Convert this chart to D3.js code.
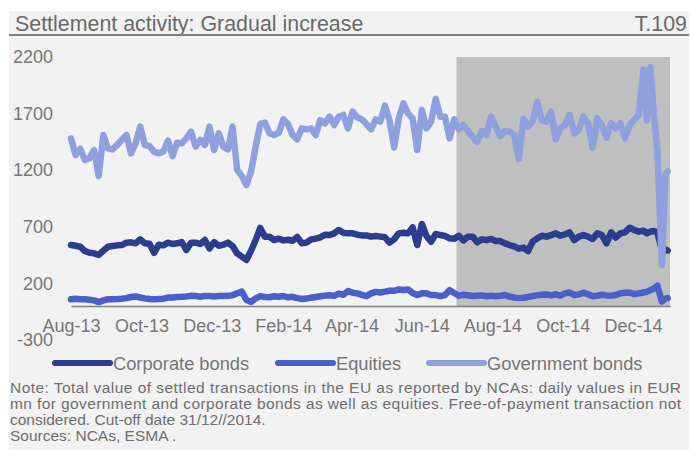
<!DOCTYPE html>
<html>
<head>
<meta charset="utf-8">
<script src="https://cdn.jsdelivr.net/npm/d3@7/dist/d3.min.js"></script>
<style>
  html, body { margin: 0; padding: 0; background: #ffffff; }
  svg { display: block; font-family: "Liberation Sans", Arial, sans-serif; }
</style>
</head>
<body>
<svg id="chart" width="691" height="450"></svg>
<script>
// ---------- DATA ----------
const title = "Settlement activity: Gradual increase";
const chartId = "T.109";

const dates = [
  "2013-08-01","2013-08-05","2013-08-09","2013-08-13","2013-08-17","2013-08-21","2013-08-25","2013-08-29",
  "2013-09-02","2013-09-06","2013-09-10","2013-09-14","2013-09-18","2013-09-22","2013-09-26","2013-09-30",
  "2013-10-04","2013-10-08","2013-10-12","2013-10-16","2013-10-20","2013-10-24","2013-10-28",
  "2013-11-01","2013-11-05","2013-11-09","2013-11-13","2013-11-17","2013-11-21","2013-11-25","2013-11-29",
  "2013-12-03","2013-12-07","2013-12-11","2013-12-15","2013-12-19","2013-12-23","2013-12-27","2013-12-31",
  "2014-01-04","2014-01-08","2014-01-12","2014-01-16","2014-01-20","2014-01-24","2014-01-28",
  "2014-02-01","2014-02-05","2014-02-09","2014-02-13","2014-02-17","2014-02-21","2014-02-25",
  "2014-03-01","2014-03-05","2014-03-09","2014-03-13","2014-03-17","2014-03-21","2014-03-25","2014-03-29",
  "2014-04-02","2014-04-06","2014-04-10","2014-04-14","2014-04-18","2014-04-22","2014-04-26","2014-04-30",
  "2014-05-04","2014-05-08","2014-05-12","2014-05-16","2014-05-20","2014-05-24","2014-05-28",
  "2014-06-01","2014-06-05","2014-06-09","2014-06-13","2014-06-17","2014-06-21","2014-06-25","2014-06-29",
  "2014-07-03","2014-07-07","2014-07-11","2014-07-15","2014-07-19","2014-07-23","2014-07-27","2014-07-31",
  "2014-08-04","2014-08-08","2014-08-12","2014-08-16","2014-08-20","2014-08-24","2014-08-28",
  "2014-09-01","2014-09-05","2014-09-09","2014-09-13","2014-09-17","2014-09-21","2014-09-25","2014-09-29",
  "2014-10-03","2014-10-07","2014-10-11","2014-10-15","2014-10-19","2014-10-23","2014-10-27","2014-10-31",
  "2014-11-04","2014-11-08","2014-11-12","2014-11-16","2014-11-20","2014-11-24","2014-11-28",
  "2014-12-02","2014-12-06","2014-12-10","2014-12-13","2014-12-16","2014-12-19","2014-12-22","2014-12-26","2014-12-29","2014-12-31"
];

const corporateBonds = [
  539,533,524,486,471,465,451,489,
  524,530,536,539,560,563,554,589,
  554,551,470,542,536,560,548,
  554,565,495,560,560,548,583,510,
  565,533,542,560,530,465,436,407,
  489,583,690,613,613,583,595,
  580,586,577,610,554,560,589,
  595,607,630,627,642,672,648,642,
  642,630,624,624,613,619,613,607,
  560,590,642,648,642,695,539,
  725,619,568,636,627,619,598,595,
  621,580,613,613,563,589,583,592,
  574,574,554,539,527,507,516,
  486,569,598,621,613,627,642,621,
  633,651,583,613,627,613,592,642,
  627,554,651,604,642,651,692,
  672,657,666,642,657,663,650,495,500,490
];

const equities = [
  60,65,60,60,55,50,35,50,
  60,60,62,65,70,80,85,75,
  68,62,60,62,65,75,75,
  80,82,85,90,88,82,88,88,
  85,88,88,90,95,112,127,53,
  36,68,88,80,78,86,82,
  88,77,82,70,62,66,74,
  80,86,92,95,90,110,100,132,
  118,112,98,88,112,125,120,127,
  135,135,147,142,147,115,97,
  112,112,97,97,88,97,140,115,
  92,100,95,88,92,94,86,90,
  86,90,97,84,76,70,74,
  80,88,94,100,102,94,104,92,
  112,120,97,103,118,104,86,92,
  100,94,92,97,112,118,118,
  105,112,120,125,140,155,180,40,65,70
];

const governmentBonds = [
  1480,1334,1390,1290,1305,1378,1150,1511,
  1393,1384,1423,1467,1511,1349,1437,1585,
  1423,1414,1364,1349,1364,1461,1325,
  1443,1437,1481,1540,1408,1467,1423,1585,
  1378,1526,1408,1384,1585,1202,1149,1069,
  1187,1408,1610,1620,1526,1511,1530,
  1650,1608,1511,1473,1570,1561,1570,
  1511,1643,1614,1673,1599,1673,1688,1570,
  1717,1667,1649,1608,1561,1649,1629,1770,
  1640,1400,1660,1790,1702,1658,1378,
  1732,1570,1629,1830,1673,1673,1481,1650,
  1560,1599,1546,1496,1452,1546,1511,1673,
  1585,1500,1546,1540,1511,1300,1652,
  1585,1635,1805,1643,1629,1717,1470,1570,
  1599,1688,1526,1555,1673,1614,1399,1658,
  1599,1487,1614,1570,1614,1481,1599,
  1643,1690,2090,1640,2110,1690,1393,362,1160,1190
];

const seriesNames = ["Corporate bonds", "Equities", "Government bonds"];
const seriesColors = ["#2c3c8e", "#4a5fc9", "#8fa0df"];

const shadeDates = ["2014-07-01", "2015-01-02"];
const shadeValue = 2200;

const xTickDates = ["2013-08-01","2013-10-01","2013-12-01","2014-02-01","2014-04-01","2014-06-01","2014-08-01","2014-10-01","2014-12-01"];
const xTickLabels = ["Aug-13","Oct-13","Dec-13","Feb-14","Apr-14","Jun-14","Aug-14","Oct-14","Dec-14"];
const yTicks = [-300, 200, 700, 1200, 1700, 2200];
const yTickLabels = ["-300", "200", "700", "1200", "1700", "2200"];
const xDomain = ["2013-08-01", "2015-01-02"];

const noteLines = [
  "Note: Total value of settled transactions in the EU as reported by NCAs: daily values in EUR",
  "mn for government and corporate bonds as well as equities. Free-of-payment transaction not",
  "considered. Cut-off date 31/12//2014.",
  "Sources: NCAs, ESMA ."
];
const noteJustified = [true, true, false, false];

// ---------- DRAW ----------
const svg = d3.select("#chart");
const parse = d3.utcParse("%Y-%m-%d");

svg.append("rect").attr("x", 0).attr("y", 0).attr("width", 691).attr("height", 450).attr("fill", "#ffffff");
svg.append("rect").attr("x", 9).attr("y", 11).attr("width", 680).attr("height", 439).attr("fill", "#f2f2f2");

// title
svg.append("text").attr("x", 15).attr("y", 30.5)
  .attr("font-size", 21.4).attr("fill", "#6a6a6a").text(title);
svg.append("text").attr("x", 687).attr("y", 30.5).attr("text-anchor", "end")
  .attr("font-size", 21.4).attr("fill", "#6a6a6a").text(chartId);
svg.append("line").attr("x1", 9).attr("x2", 689).attr("y1", 35).attr("y2", 35)
  .attr("stroke", "#7f7f7f").attr("stroke-width", 2);

const x = d3.scaleUtc().domain(xDomain.map(parse)).range([71, 670]);
const y = d3.scaleLinear().domain([-300, 2200]).range([340, 57]);

// shaded period
svg.append("rect")
  .attr("x", x(parse(shadeDates[0])))
  .attr("y", y(shadeValue))
  .attr("width", x(parse(shadeDates[1])) - x(parse(shadeDates[0])))
  .attr("height", y(0) - y(shadeValue))
  .attr("fill", "#bfbfbf");

// y axis labels
const yAxis = d3.axisLeft(y).tickValues(yTicks).tickSize(0).tickPadding(0)
  .tickFormat((d, i) => yTickLabels[i]);
const gy = svg.append("g").attr("transform", "translate(53,0)").call(yAxis);
gy.select(".domain").remove();
gy.selectAll("text").attr("font-size", 18).attr("fill", "#767676")
  .attr("font-family", "Liberation Sans, Arial, sans-serif");

// x axis
const xAxis = d3.axisBottom(x).tickValues(xTickDates.map(parse)).tickSize(0).tickPadding(13)
  .tickFormat((d, i) => xTickLabels[i]);
const gx = svg.append("g").attr("transform", `translate(0,${y(0)})`).call(xAxis);
gx.select(".domain").attr("stroke", "#808080").attr("stroke-width", 1.6);
gx.selectAll("text").attr("font-size", 18).attr("fill", "#767676")
  .attr("font-family", "Liberation Sans, Arial, sans-serif");

// lines
const allSeries = [corporateBonds, equities, governmentBonds];
const line = d3.line().x((d, i) => x(parse(dates[i]))).y(d => y(d)).curve(d3.curveLinear);
allSeries.forEach((vals, si) => {
  svg.append("path").datum(vals)
    .attr("d", line)
    .attr("fill", "none")
    .attr("stroke", seriesColors[si])
    .attr("stroke-width", 6.5)
    .attr("stroke-linejoin", "round")
    .attr("stroke-linecap", "round");
});

// legend
const legendX = [55, 278, 429];
seriesNames.forEach((name, i) => {
  svg.append("line").attr("x1", legendX[i]).attr("x2", legendX[i] + 55)
    .attr("y1", 363).attr("y2", 363)
    .attr("stroke", seriesColors[i]).attr("stroke-width", 6).attr("stroke-linecap", "round");
  svg.append("text").attr("x", legendX[i] + 58).attr("y", 369.5)
    .attr("font-size", 18.3).attr("fill", "#767676").text(name);
});

// note
noteLines.forEach((t, i) => {
  const tx = svg.append("text").attr("x", 10).attr("y", 393 + i * 16)
    .attr("font-size", 15.5).attr("fill", "#6e6e6e").text(t);
  if (noteJustified[i]) tx.attr("textLength", 671).attr("lengthAdjust", "spacing");
});
</script>
</body>
</html>
